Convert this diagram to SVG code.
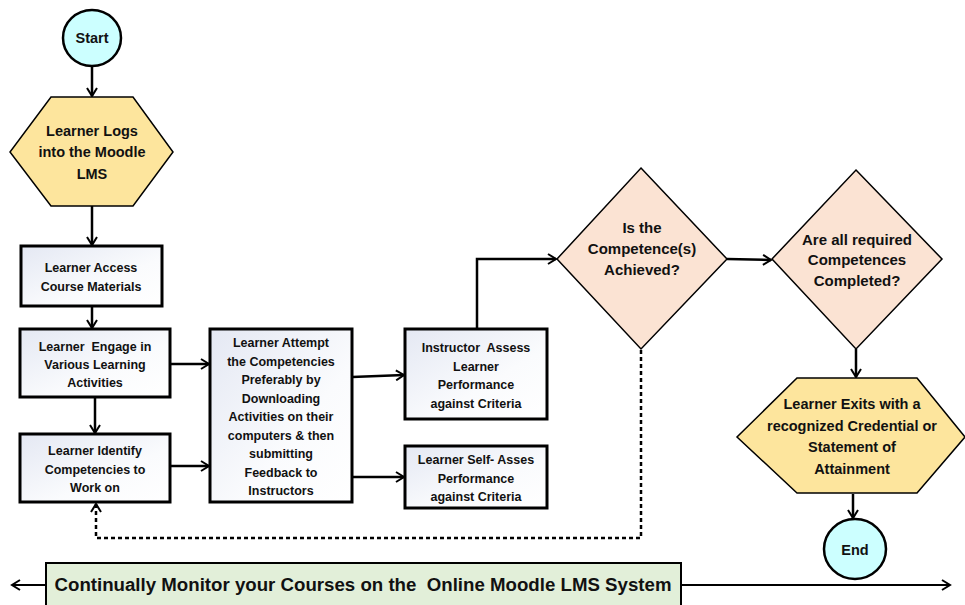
<svg xmlns="http://www.w3.org/2000/svg" width="965" height="605" viewBox="0 0 965 605">
<defs>
<linearGradient id="boxg" x1="0" y1="0" x2="1" y2="1">
<stop offset="0" stop-color="#e4e8f3"/>
<stop offset="0.6" stop-color="#fafbfd"/>
<stop offset="1" stop-color="#ffffff"/>
</linearGradient>
<marker id="arr" markerWidth="12" markerHeight="12" refX="10" refY="6" orient="auto" markerUnits="userSpaceOnUse">
<path d="M2,1 L10,6 L2,11" fill="none" stroke="#000" stroke-width="2"/>
</marker>
</defs>
<style>
text{font-family:"Liberation Sans",Arial,sans-serif;font-weight:bold;fill:#111;text-anchor:middle;white-space:pre;}
.box{fill:url(#boxg);stroke:#000;stroke-width:3;}
.hex{fill:#fde59d;stroke:#000;stroke-width:1.5;}
.dia{fill:#fbe3d3;stroke:#000;stroke-width:1.5;}
.circ{fill:#ccffff;stroke:#000;stroke-width:2.5;}
.t12{font-size:12.5px;}
.t14{font-size:14.5px;}
.t15{font-size:15px;}
.con{fill:none;stroke:#000;stroke-width:2.5;}
.dash{fill:none;stroke:#000;stroke-width:2.5;stroke-dasharray:4,3;}
</style>
<g id="connectors">
<path class="con" d="M92,66 L92,96" marker-end="url(#arr)"/>
<path class="con" d="M92,206 L92,245" marker-end="url(#arr)"/>
<path class="con" d="M92,306 L92,328" marker-end="url(#arr)"/>
<path class="con" d="M95,397 L95,433" marker-end="url(#arr)"/>
<path class="con" d="M170,364 L209,364" marker-end="url(#arr)"/>
<path class="con" d="M170,466 L209,466" marker-end="url(#arr)"/>
<path class="con" d="M352,377 L404,375" marker-end="url(#arr)"/>
<path class="con" d="M352,477 L404,477" marker-end="url(#arr)"/>
<path class="con" d="M477,329 L477,259 L556,259" marker-end="url(#arr)"/>
<path class="con" d="M727,259 L771,260" marker-end="url(#arr)"/>
<path class="con" d="M856,349 L856,377" marker-end="url(#arr)"/>
<path class="con" d="M853,494 L853,518" marker-end="url(#arr)"/>
<path class="dash" d="M641,350 L641,538 L96,538 L96,504" marker-end="url(#arr)"/>
<path class="con" style="stroke-width:2" d="M46,585 L12,585" marker-end="url(#arr)"/>
<path class="con" style="stroke-width:2" d="M681,585 L950,585" marker-end="url(#arr)"/>
</g>
<g id="start">
<ellipse class="circ" cx="92" cy="38" rx="29" ry="28"/>
<text class="t14" x="92" y="43">Start</text>
</g>
<g id="login">
<polygon class="hex" points="51,97 133,97 173,152 133,206 51,206 10,152"/>
<text class="t14" x="92" y="136">Learner Logs</text>
<text class="t14" x="92" y="157">into the Moodle</text>
<text class="t14" x="92" y="179">LMS</text>
</g>
<g id="access">
<rect class="box" x="21" y="246" width="141" height="60"/>
<text class="t12" x="91" y="272">Learner Access</text>
<text class="t12" x="91" y="291">Course Materials</text>
</g>
<g id="engage">
<rect class="box" x="20" y="329" width="150" height="68"/>
<text class="t12" x="95" y="351">Learner  Engage in</text>
<text class="t12" x="95" y="369">Various Learning</text>
<text class="t12" x="95" y="387">Activities</text>
</g>
<g id="identify">
<rect class="box" x="20" y="434" width="150" height="68"/>
<text class="t12" x="95" y="455">Learner Identify</text>
<text class="t12" x="95" y="474">Competencies to</text>
<text class="t12" x="95" y="492">Work on</text>
</g>
<g id="attempt">
<rect class="box" x="210" y="329" width="142" height="173"/>
<text class="t12" x="281" y="347">Learner Attempt</text>
<text class="t12" x="281" y="366">the Competencies</text>
<text class="t12" x="281" y="384">Preferably by</text>
<text class="t12" x="281" y="403">Downloading</text>
<text class="t12" x="281" y="421">Activities on their</text>
<text class="t12" x="281" y="440">computers &amp; then</text>
<text class="t12" x="281" y="458">submitting</text>
<text class="t12" x="281" y="477">Feedback to</text>
<text class="t12" x="281" y="495">Instructors</text>
</g>
<g id="instructor">
<rect class="box" x="405" y="329" width="142" height="90"/>
<text class="t12" x="476" y="352">Instructor  Assess</text>
<text class="t12" x="476" y="371">Learner</text>
<text class="t12" x="476" y="389">Performance</text>
<text class="t12" x="476" y="408">against Criteria</text>
</g>
<g id="selfassess">
<rect class="box" x="405" y="446" width="142" height="62"/>
<text class="t12" x="476" y="464">Learner Self- Asses</text>
<text class="t12" x="476" y="483">Performance</text>
<text class="t12" x="476" y="501">against Criteria</text>
</g>
<g id="achieved">
<polygon class="dia" points="641,168 727,259 641,349 557,259"/>
<text class="t15" x="642" y="233">Is the</text>
<text class="t15" x="642" y="254">Competence(s)</text>
<text class="t15" x="642" y="275">Achieved?</text>
</g>
<g id="completed">
<polygon class="dia" points="856,170 942,259 856,349 772,259"/>
<text class="t15" x="857" y="245">Are all required</text>
<text class="t15" x="857" y="265">Competences</text>
<text class="t15" x="857" y="286">Completed?</text>
</g>
<g id="exit">
<polygon class="hex" points="797,378 917,378 965,437 917,493 797,493 737,437"/>
<text class="t14" x="852" y="409">Learner Exits with a</text>
<text class="t14" x="852" y="431">recognized Credential or</text>
<text class="t14" x="852" y="452">Statement of</text>
<text class="t14" x="852" y="474">Attainment</text>
</g>
<g id="end">
<ellipse class="circ" cx="855" cy="549" rx="31" ry="30"/>
<text class="t14" x="855" y="555">End</text>
</g>
<g id="monitor">
<rect x="46" y="563" width="635" height="50" fill="#e2efd9" stroke="#000" stroke-width="2"/>
<text x="363" y="591" style="font-size:17.5px" textLength="617" lengthAdjust="spacingAndGlyphs">Continually Monitor your Courses on the  Online Moodle LMS System</text>
</g>
</svg>
